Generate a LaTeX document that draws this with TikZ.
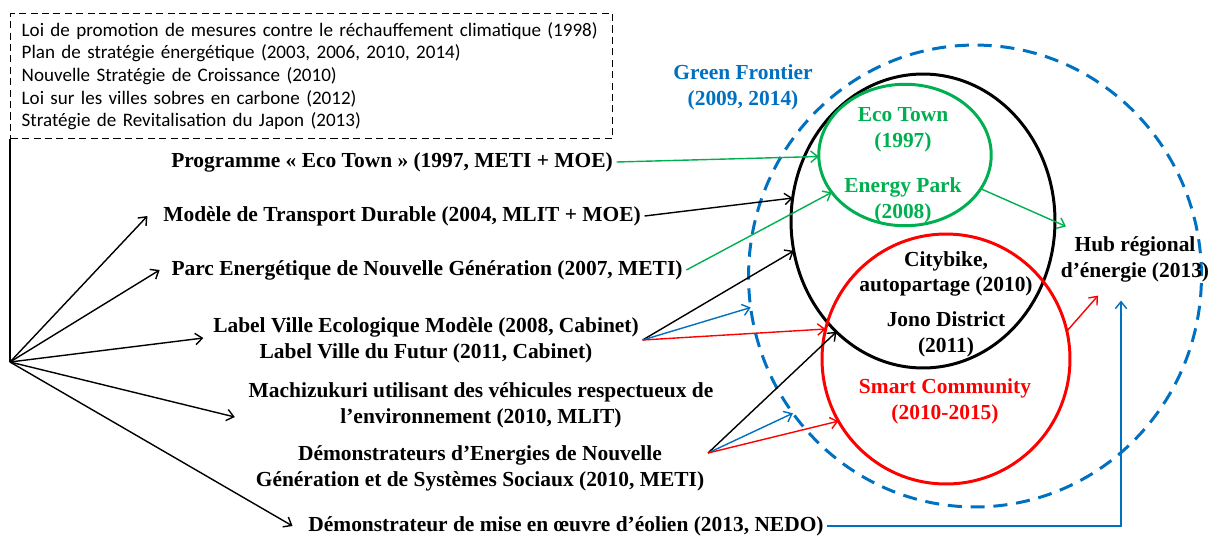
\documentclass[tikz,border=0pt]{standalone}
\usepackage{fontspec}
\setmainfont{Liberation Serif}
\newfontfamily\calibri{Carlito}
\usetikzlibrary{shapes,arrows.meta,calc,positioning}
\definecolor{vert}{RGB}{0,176,80}
\definecolor{bleu}{RGB}{0,112,192}
\definecolor{rouge}{RGB}{255,0,0}

\begin{document}
\begin{tikzpicture}[x=0.02cm, y=-0.02cm, >={Straight Barb[length=4pt, width=6.5pt]},
    lbl/.style={font=\bfseries\fontsize{12.2}{14.7}\selectfont, align=center, inner sep=2pt},
    zone/.style={ellipse, draw, line width=1.7pt, inner sep=0pt, outer sep=0pt},
    lien/.style={->, line width=0.8pt}]
        \useasboundingbox (0,0) rectangle (1216,538);
        % Cadre des lois et strategies
        \node[draw, dash pattern=on 4pt off 2.5pt, line width=0.8pt, anchor=north west,
              minimum width=12.04cm, minimum height=2.5cm, text width=11.6cm, inner xsep=0.2cm,
              align=left, font=\calibri\fontsize{10.85}{12.9}\selectfont] (lois) at (10,13)
              {Loi de promotion de mesures contre le réchauffement climatique (1998)\\
               Plan de stratégie énergétique (2003, 2006, 2010, 2014)\\
               Nouvelle Stratégie de Croissance (2010)\\
               Loi sur les villes sobres en carbone (2012)\\
               Stratégie de Revitalisation du Japon (2013)};
        \coordinate (org) at (10,362);
        \draw[line width=0.9pt] (lois.south west) -- (org);
        % Programmes
        \node[lbl] (eco97) at (392,162) {Programme « Eco Town » (1997, METI + MOE)};
        \node[lbl] (mtd) at (402,216) {Modèle de Transport Durable (2004, MLIT + MOE)};
        \node[lbl] (parc) at (427,270) {Parc Energétique de Nouvelle Génération (2007, METI)};
        \node[lbl] (label) at (426,340) {Label Ville Ecologique Modèle (2008, Cabinet)\\Label Ville du Futur (2011, Cabinet)};
        \node[lbl] (machi) at (481,405) {Machizukuri utilisant des véhicules respectueux de\\l’environnement (2010, MLIT)};
        \node[lbl] (demo) at (480,468) {Démonstrateurs d’Energies de Nouvelle\\Génération et de Systèmes Sociaux (2010, METI)};
        \node[lbl] (eolien) at (566,526) {Démonstrateur de mise en œuvre d’éolien (2013, NEDO)};
        % Eventail
        \draw[lien] (org) -- ($(mtd.west)+(-12,0)$);
        \draw[lien] (org) -- ($(parc.west)+(-8,0)$);
        \draw[lien] (org) -- ($(label.west)+(-6,-2)$);
        \draw[lien] (org) -- ($(machi.west)+(-10,12)$);
        \draw[lien] (org) -- ($(eolien.west)+(-12,0)$);
        % Zones
        \node[zone, bleu, dash pattern=on 8pt off 5pt, minimum width=9.06cm, minimum height=9.24cm] (gf) at (975,276) {};
        \node[zone, minimum width=5.28cm, minimum height=5.88cm] (jono) at (923,221) {};
        \node[zone, vert, minimum width=3.45cm, minimum height=2.83cm] (eco) at (905,155) {};
        \node[zone, rouge, minimum width=4.96cm, minimum height=5.0cm] (smart) at (946,359) {};
        \node[lbl, bleu] (gftxt) at (743,87) {Green Frontier\\(2009, 2014)};
        \node[lbl, vert] (ecotxt) at (903,130) {Eco Town\\(1997)};
        \node[lbl, vert] (parktxt) at (903,200) {Energy Park\\(2008)};
        \node[lbl] (citytxt) at (946,274) {Citybike,\\autopartage (2010)};
        \node[lbl] (jonotxt) at (946,334) {Jono District\\(2011)};
        \node[lbl, rouge] (smarttxt) at (945,401) {Smart Community\\(2010-2015)};
        \node[lbl] (hub) at (1135,259) {Hub régional\\d’énergie (2013)};
        % Liens vers les zones
        \draw[lien, vert] (eco97.east) -- (eco.181);
        \draw[lien] (mtd.east) -- (jono.170);
        \draw[lien, vert] (parc.east) -- (eco.207);
        \draw[lien] (label.east) -- (jono.193);
        \draw[lien, bleu] (label.east) -- (gf.188);
        \draw[lien, rouge] (label.east) -- (smart.166);
        \draw[lien] ($(demo.east)+(0,-15)$) -- (jono.232);
        \draw[lien, bleu] ($(demo.east)+(0,-15)$) -- (gf.217);
        \draw[lien, rouge] ($(demo.east)+(0,-15)$) -- (smart.210);
        % Vers le hub
        \draw[lien, vert] (eco.336) -- ($(hub.north west)+(9,-6)$);
        \draw[lien, rouge] (smart.13) -- ($(hub.south west)+(41,10)$);
        \draw[lien, bleu] (eolien.east) -| ($(hub.south)+(-14,15)$);
      \end{tikzpicture}
\end{document}
